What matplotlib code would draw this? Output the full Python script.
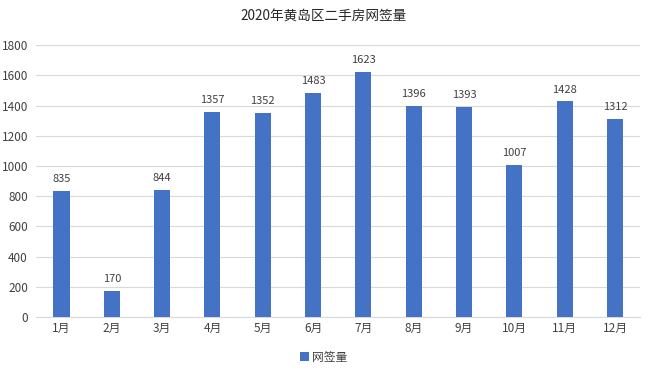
import matplotlib
matplotlib.use("Agg")
import matplotlib.pyplot as plt

plt.rcParams['font.family'] = ['Noto Sans CJK SC', 'DejaVu Sans']

months = ['1月', '2月', '3月', '4月', '5月', '6月', '7月', '8月', '9月', '10月', '11月', '12月']
sales = [835, 170, 844, 1357, 1352, 1483, 1623, 1396, 1393, 1007, 1428, 1312]

fig = plt.figure(figsize=(6.48, 3.76), dpi=100)
ax = fig.add_axes([0.056, 0.157, 0.932, 0.723])

x = range(len(months))
ax.bar(x, sales, width=0.32, color='#4472C4', label='网签量', zorder=3)
for xi, v in zip(x, sales):
    ax.text(xi, v + 45, str(v), ha='center', va='bottom', fontsize=8, color='#404040')

ax.set_xlim(-0.5, len(months) - 0.5)
ax.set_ylim(0, 1800)
ax.set_yticks(range(0, 1801, 200))
ax.set_xticks(list(x))
ax.set_xticklabels(months)
ax.tick_params(axis='both', length=0, labelsize=8.5, colors='#404040')
ax.tick_params(axis='y', pad=6)
ax.grid(axis='y', color='#d9d9d9', linewidth=0.8, zorder=0)
for s in ['top', 'right', 'left']:
    ax.spines[s].set_visible(False)
ax.spines['bottom'].set_color('#d9d9d9')

fig.text(0.5, 0.955, '2020年黄岛区二手房网签量', ha='center', va='center', fontsize=9.8, color='#262626')
fig.legend(loc='center', bbox_to_anchor=(0.5, 0.05), frameon=False, fontsize=8.5,
           handlelength=0.7, handleheight=0.7, handletextpad=0.3, labelcolor='#404040')

fig.savefig('out.png', dpi=100)
